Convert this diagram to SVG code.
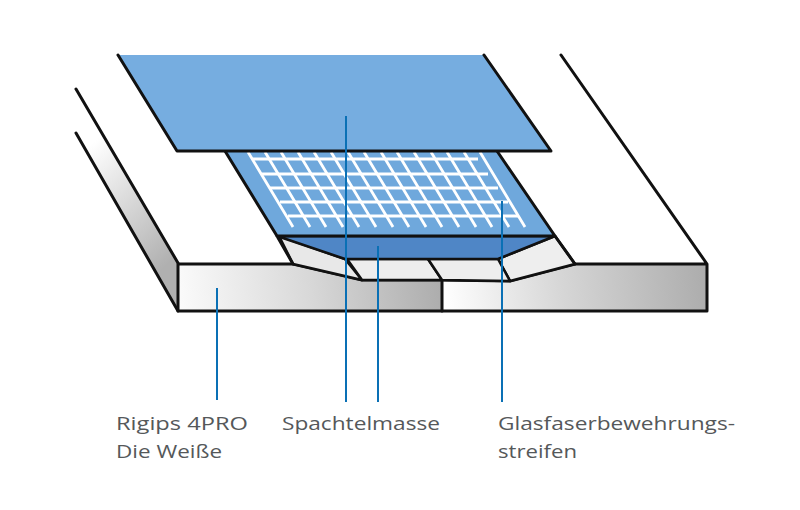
<svg xmlns="http://www.w3.org/2000/svg" width="800" height="510" viewBox="0 0 800 510">
<style>
.o{stroke:#111;stroke-width:3;stroke-linejoin:round;stroke-linecap:round;fill:none}
.t{stroke:#111;stroke-width:2.6;stroke-linejoin:round}
.m{stroke:#fff;stroke-width:2.8;fill:none}
.l{stroke:#0a70b5;stroke-width:2;fill:none}
text{font-family:"Open Sans","Liberation Sans",sans-serif;font-size:19px;fill:#55585a}
</style>
<defs>
<linearGradient id="gl" gradientUnits="userSpaceOnUse" x1="178" y1="300" x2="442" y2="270"><stop offset="0" stop-color="#fbfbfb"/><stop offset="0.5" stop-color="#d8d8d8"/><stop offset="1" stop-color="#acacac"/></linearGradient>
<linearGradient id="gr" gradientUnits="userSpaceOnUse" x1="443" y1="300" x2="707" y2="270"><stop offset="0" stop-color="#fff"/><stop offset="0.45" stop-color="#d6d6d6"/><stop offset="1" stop-color="#acacac"/></linearGradient>
<linearGradient id="gside" gradientUnits="userSpaceOnUse" x1="85" y1="150" x2="178" y2="255"><stop offset="0" stop-color="#fff"/><stop offset="1" stop-color="#b0b0b0"/></linearGradient>
</defs>
<rect width="800" height="510" fill="#fff"/>
<g id="board-left">
<polygon points="76,89 178,263 178,311 76,133" fill="url(#gside)"/>
<path class="o" d="M76,89 L178,263 M76,133 L178,311"/>
<polygon points="178,264 293,264 362,280 442,280 442,311 178,311" fill="url(#gl)"/>
</g>
<g id="board-right">
<polygon points="442,280 510,281 575,264 707,264 707,311 442,311" fill="url(#gr)"/>
<path class="o" d="M561,55 L707,264 V311 H442 M442,280 L510,281 L575,264 H707"/>
<path class="o" d="M178,264 H293 L362,280 H442 V311 H178 Z"/>
</g>
<g id="filler">
<polygon class="t" points="279,236 345,259 362,280 293,264" fill="#e8e8e8"/>
<polygon class="t" points="555,236 498,259 510,281 575,264" fill="#eeeeee"/>
<polygon class="t" points="347,259 428,259 442,280 362,280" fill="#eeeeee"/>
<polygon class="t" points="428,259 498,259 510,281 442,280" fill="#eeeeee"/>
<polygon class="t" points="277,236 555,236 498,259 345,259" fill="#4f86c6"/>
</g>
<g id="mesh-strip">
<polygon points="225,151 497,151 555,236 277,236" fill="#6fa8dc"/>
<path class="o" d="M225,151 L277,236 L293,264 M497,151 L555,236 L575,264 M277,236 H555"/>
<g class="m">
<path d="M253,159H478M262,174H488M270,188H498M280,202H508M288,216H518"/>
<path d="M248,152L293,227M265,152L310,227M281,152L326,227M298,152L343,227M314,152L359,227M331,152L376,227M348,152L393,227M364,152L409,227M381,152L426,227M397,152L442,227M414,152L459,227M431,152L476,227M447,152L492,227M464,152L509,227M480,152L525,227"/>
</g>
</g>
<g id="cover-sheet">
<polygon points="118,55 484,55 551,151 177,151" fill="#76ade0"/>
<path class="o" d="M118,55 L177,151 H551 L484,55"/>
</g>
<g id="connectors">
<path class="l" d="M217,288V400M346,116V402M378,246V402M502,201V402"/>
</g>
<g id="label-board"><text x="116" y="430" textLength="132" lengthAdjust="spacingAndGlyphs">Rigips 4PRO</text><text x="116" y="458" textLength="106" lengthAdjust="spacingAndGlyphs">Die Weiße</text></g>
<g id="label-filler"><text x="282" y="430" textLength="158" lengthAdjust="spacingAndGlyphs">Spachtelmasse</text></g>
<g id="label-mesh"><text x="498" y="430" textLength="237" lengthAdjust="spacingAndGlyphs">Glasfaserbewehrungs-</text><text x="498" y="458" textLength="79" lengthAdjust="spacingAndGlyphs">streifen</text></g>
</svg>
